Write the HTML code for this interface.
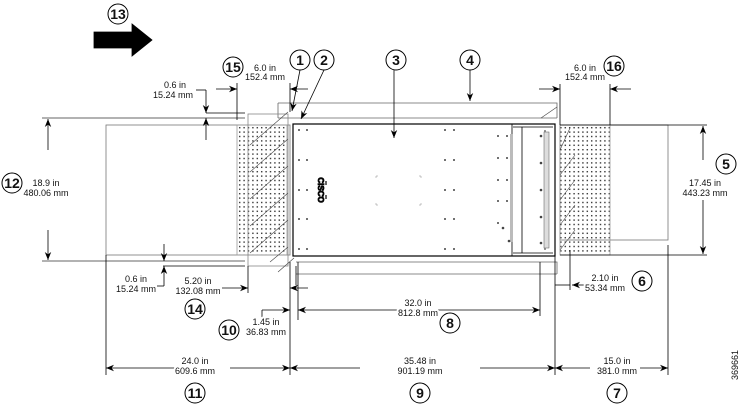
<!DOCTYPE html>
<html><head><meta charset="utf-8"><style>
html,body{margin:0;padding:0;background:#fff}
svg{display:block}
text{font-family:"Liberation Sans",sans-serif;fill:#111}
.s{font-size:9px;stroke:#fff;stroke-width:4px;paint-order:stroke;stroke-linejoin:round}
.c{font-size:14px;font-weight:bold}
</style></head><body>
<svg width="740" height="409" viewBox="0 0 740 409" xmlns="http://www.w3.org/2000/svg">
<defs>
<pattern id="dots" x="238" y="126" width="4.4" height="4.4" patternUnits="userSpaceOnUse">
<rect x="1" y="1" width="1.4" height="1.4" fill="#333"/>
</pattern>
<marker id="a" viewBox="0 0 10 10" refX="10" refY="5" markerWidth="8" markerHeight="8" orient="auto-start-reverse" markerUnits="userSpaceOnUse"><path d="M0,1 L10,5 L0,9 L3,5z" fill="#000"/></marker>
</defs>
<g fill="none" stroke="#000" stroke-width="0.8">
<path d="M94,32 H132 V24 L152,40 L132,56 V48 H94z" fill="#000"/>
<rect x="106" y="125" width="184" height="130" stroke="#777"/>
<rect x="237" y="125" width="50" height="130" fill="url(#dots)" stroke="#999"/>
<rect x="560" y="125" width="108" height="115" stroke="#777"/>
<rect x="560" y="125" width="50" height="130" fill="url(#dots)" stroke="#999"/>
<path d="M278,103 H557 V118 M278,103 V118" stroke="#666"/>
<path d="M278,118 H557 M296,262 H557 V274 M296,274 H557" stroke="#666"/>
<rect x="248" y="114" width="40" height="152" stroke="#888"/>
<g stroke="#444" stroke-width="0.6">
<path d="M250,145 L288,112 M250,172 L288,139 M250,199 L288,166 M250,226 L288,193 M250,253 L288,220 M270,262 L288,247 M278,272 L294,258"/>
<path d="M560,150 L570,128 M560,175 L575,155 M560,200 L575,180 M560,225 L575,205 M560,250 L575,230 M541,118 L557,107"/>
</g>
<rect x="293" y="124" width="262" height="132" stroke="#000" stroke-width="1.2"/>
<path d="M512,124 V256 M522,127 V253 M513,127 H553 M513,253 H553 M545,130 V250" stroke="#000"/>
<rect x="510" y="134" width="3" height="108" fill="#bbb" stroke="none"/>
<rect x="544" y="132" width="5" height="116" fill="#ddd" stroke="#555" stroke-width="0.5"/>
<g fill="#444" stroke="none">
<circle cx="299" cy="130" r="1"/><circle cx="307" cy="130" r="1"/><circle cx="299" cy="160" r="1"/><circle cx="307" cy="160" r="1"/>
<circle cx="299" cy="190" r="1"/><circle cx="307" cy="190" r="1"/><circle cx="299" cy="219" r="1"/><circle cx="307" cy="219" r="1"/>
<circle cx="299" cy="249" r="1"/><circle cx="307" cy="249" r="1"/>
<circle cx="445" cy="130" r="1"/><circle cx="454" cy="130" r="1"/><circle cx="445" cy="160" r="1"/><circle cx="454" cy="160" r="1"/>
<circle cx="445" cy="190" r="1"/><circle cx="454" cy="190" r="1"/><circle cx="445" cy="219" r="1"/><circle cx="454" cy="219" r="1"/>
<circle cx="445" cy="249" r="1"/><circle cx="454" cy="249" r="1"/>
<circle cx="498" cy="136" r="1"/><circle cx="507" cy="136" r="1"/><circle cx="498" cy="158" r="1"/><circle cx="507" cy="158" r="1"/>
<circle cx="498" cy="180" r="1"/><circle cx="507" cy="180" r="1"/><circle cx="498" cy="201" r="1"/><circle cx="507" cy="201" r="1"/>
<circle cx="498" cy="223" r="1"/><circle cx="503" cy="228" r="1.3"/><circle cx="509" cy="241" r="1.3"/>
<circle cx="541" cy="136" r="1.3"/><circle cx="541" cy="163" r="1.3"/><circle cx="541" cy="190" r="1.3"/><circle cx="541" cy="217" r="1.3"/><circle cx="541" cy="243" r="1.3"/>
</g>
<g stroke="#888" stroke-width="0.5"><path d="M376,176 v2 M376,176 h2 M421,176 v2 M421,176 h-2 M376,205 v-2 M376,205 h2 M421,205 v-2 M421,205 h-2"/></g>
<g transform="translate(318,190) rotate(90)"><text x="0" y="0" text-anchor="middle" style="font-size:8px;font-weight:bold">CISCO</text></g>
<g stroke="#000" stroke-width="1.2"><path d="M323,179 v3 M323,186 v5 M323,195 v3 M326,181 v4 M326,195 v4"/></g>
<path d="M42,118 H245 M42,261 H245" stroke="#333"/>
<line x1="48" y1="150" x2="48" y2="119" marker-end="url(#a)"/>
<line x1="48" y1="230" x2="48" y2="260" marker-end="url(#a)"/>
<path d="M206,113 H245 M163,266 H245"/>
<line x1="206" y1="90" x2="206" y2="113" marker-end="url(#a)"/><path d="M196,90 H206"/>
<line x1="206" y1="140" x2="206" y2="118" marker-end="url(#a)"/>
<line x1="164" y1="244" x2="164" y2="261" marker-end="url(#a)"/>
<line x1="164" y1="286" x2="164" y2="266" marker-end="url(#a)"/><path d="M157,286 H164"/>
<path d="M237,83 V120 M290,83 V112"/>
<line x1="216" y1="89" x2="237" y2="89" marker-end="url(#a)"/>
<line x1="308" y1="89" x2="290" y2="89" marker-end="url(#a)"/>
<path d="M560,84 V125 M610,84 V125"/>
<line x1="539" y1="89" x2="560" y2="89" marker-end="url(#a)"/>
<line x1="631" y1="89" x2="610" y2="89" marker-end="url(#a)"/>
<line x1="300" y1="70" x2="292" y2="111" marker-end="url(#a)"/>
<line x1="324" y1="70" x2="301" y2="119" marker-end="url(#a)"/>
<line x1="394" y1="70" x2="394" y2="138" marker-end="url(#a)"/>
<line x1="470" y1="70" x2="470" y2="101" marker-end="url(#a)"/>
<path d="M560,125 H707 M560,255 H707"/>
<line x1="703" y1="160" x2="703" y2="126" marker-end="url(#a)"/>
<line x1="703" y1="200" x2="703" y2="254" marker-end="url(#a)"/>
<path d="M106,255 V375 M290,262 V375 M555,256 V375 M668,245 V375 M248,266 V293 M298,262 V320 M540,262 V316 M570,250 V290 M296,266 V285"/>
<line x1="222" y1="288" x2="248" y2="288" marker-end="url(#a)"/>
<line x1="308" y1="288" x2="290" y2="288" marker-end="url(#a)"/>
<path d="M262,318 V310"/>
<line x1="262" y1="310" x2="290" y2="310" marker-end="url(#a)"/>
<line x1="320" y1="310" x2="298" y2="310" marker-end="url(#a)"/>
<line x1="320" y1="310" x2="540" y2="310" marker-end="url(#a)"/>
<path d="M555,285 H570"/>
<line x1="588" y1="285" x2="572" y2="285" marker-end="url(#a)"/>
<line x1="180" y1="368" x2="106" y2="368" marker-end="url(#a)"/>
<line x1="230" y1="368" x2="290" y2="368" marker-end="url(#a)"/>
<line x1="360" y1="368" x2="290" y2="368" marker-end="url(#a)"/>
<line x1="480" y1="368" x2="555" y2="368" marker-end="url(#a)"/>
<line x1="590" y1="368" x2="555" y2="368" marker-end="url(#a)"/>
<line x1="640" y1="368" x2="668" y2="368" marker-end="url(#a)"/>
</g>
<g class="s" text-anchor="middle">
<text x="265" y="71" class="s">6.0 in</text><text x="265" y="80" class="s">152.4 mm</text>
<text x="585" y="71" class="s">6.0 in</text><text x="585" y="80" class="s">152.4 mm</text>
<text x="175" y="88" class="s">0.6 in</text><text x="173" y="98" class="s">15.24 mm</text>
<text x="46" y="186" class="s">18.9 in</text><text x="46" y="196" class="s">480.06 mm</text>
<text x="705" y="186" class="s">17.45 in</text><text x="705" y="196" class="s">443.23 mm</text>
<text x="136" y="282" class="s">0.6 in</text><text x="136" y="292" class="s">15.24 mm</text>
<text x="198" y="284" class="s">5.20 in</text><text x="198" y="294" class="s">132.08 mm</text>
<text x="605" y="281" class="s">2.10 in</text><text x="605" y="291" class="s">53.34 mm</text>
<text x="266" y="325" class="s">1.45 in</text><text x="266" y="335" class="s">36.83 mm</text>
<text x="418" y="306" class="s">32.0 in</text><text x="418" y="316" class="s">812.8 mm</text>
<text x="195" y="364" class="s">24.0 in</text><text x="195" y="374" class="s">609.6 mm</text>
<text x="420" y="364" class="s">35.48 in</text><text x="420" y="374" class="s">901.19 mm</text>
<text x="617" y="364" class="s">15.0 in</text><text x="617" y="374" class="s">381.0 mm</text>
</g>
<g stroke="#000" stroke-width="1" fill="#fff">
<circle cx="118" cy="14" r="10"/><circle cx="300" cy="60" r="10"/><circle cx="324" cy="60" r="10"/><circle cx="396" cy="60" r="10"/><circle cx="470" cy="60" r="10"/>
<circle cx="233" cy="67" r="10"/><circle cx="614" cy="66" r="10"/><circle cx="12" cy="183" r="10"/><circle cx="726" cy="164" r="10"/><circle cx="642" cy="281" r="10"/>
<circle cx="195" cy="309" r="10"/><circle cx="229" cy="330" r="10"/><circle cx="450" cy="323" r="10"/><circle cx="195" cy="393" r="10"/><circle cx="420" cy="393" r="10"/><circle cx="617" cy="393" r="10"/>
</g>
<g text-anchor="middle">
<text x="118" y="19" class="c">13</text><text x="300" y="65" class="c">1</text><text x="324" y="65" class="c">2</text><text x="396" y="65" class="c">3</text><text x="470" y="65" class="c">4</text>
<text x="233" y="72" class="c">15</text><text x="614" y="71" class="c">16</text><text x="12" y="188" class="c">12</text><text x="726" y="169" class="c">5</text><text x="642" y="286" class="c">6</text>
<text x="195" y="314" class="c">14</text><text x="229" y="335" class="c">10</text><text x="450" y="328" class="c">8</text><text x="195" y="398" class="c">11</text><text x="420" y="398" class="c">9</text><text x="617" y="398" class="c">7</text>
</g>
<text x="0" y="0" transform="translate(738,380) rotate(-90)" style="font-size:9px">369661</text>
</svg>
</body></html>
